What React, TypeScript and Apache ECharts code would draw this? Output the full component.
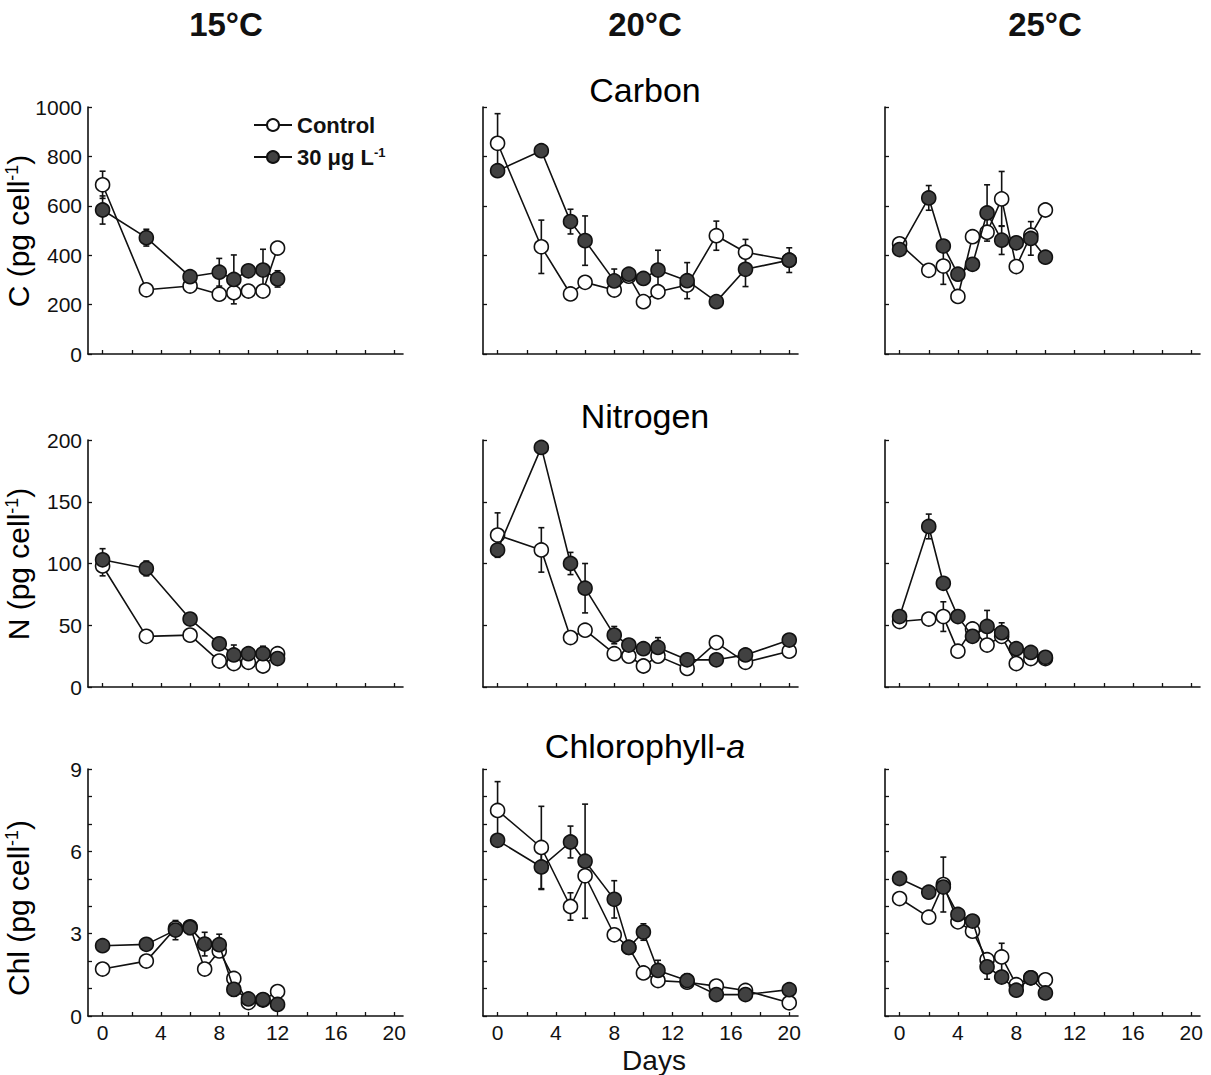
import React, { useEffect, useRef } from 'react';
import * as echarts from 'echarts';

// ---- Axis ticks and labels ----
const temperatures = ['15°C', '20°C', '25°C'];
const dayTicks = [0, 2, 4, 6, 8, 10, 12, 14, 16, 18, 20];
const dayLabels = [0, 4, 8, 12, 16, 20];

// ---- Carbon (pg cell-1) ----
const carbon15Days = [0, 3, 6, 8, 9, 10, 11, 12];
const carbon15Control = [685, 260, 275, 242, 248, 255, 255, 429];
const carbon15ControlErr = [55, 0, 10, 10, 10, 10, 22, 26];
const carbon15Treated = [583, 471, 313, 331, 302, 337, 340, 304];
const carbon15TreatedErr = [57, 34, 15, 56, 99, 20, 84, 33];

const carbon20Days = [0, 3, 5, 6, 8, 9, 10, 11, 13, 15, 17, 20];
const carbon20Control = [853, 434, 243, 290, 259, 315, 212, 252, 279, 479, 412, 380];
const carbon20ControlErr = [120, 108, 25, 0, 15, 0, 0, 0, 0, 59, 52, 0];
const carbon20Treated = [742, 823, 536, 459, 296, 323, 306, 340, 297, 212, 343, 380];
const carbon20TreatedErr = [20, 0, 50, 100, 48, 0, 25, 80, 73, 0, 70, 50];

const carbon25Days = [0, 2, 3, 4, 5, 6, 7, 8, 9, 10];
const carbon25Control = [446, 339, 356, 233, 475, 493, 628, 354, 481, 583];
const carbon25ControlErr = [20, 20, 74, 0, 0, 0, 111, 0, 0, 0];
const carbon25Treated = [423, 632, 437, 323, 363, 571, 461, 450, 468, 392];
const carbon25TreatedErr = [20, 50, 0, 25, 0, 114, 58, 25, 68, 0];

// ---- Nitrogen (pg cell-1) ----
const nitrogen15Days = [0, 3, 6, 8, 9, 10, 11, 12];
const nitrogen15Control = [98, 41, 42, 21, 19, 20, 17, 27];
const nitrogen15ControlErr = [8, 0, 0, 0, 0, 0, 0, 0];
const nitrogen15Treated = [103, 96, 55, 35, 26, 27, 27, 23];
const nitrogen15TreatedErr = [9, 6, 3, 5, 8, 4, 6, 0];

const nitrogen20Days = [0, 3, 5, 6, 8, 9, 10, 11, 13, 15, 17, 20];
const nitrogen20Control = [123, 111, 40, 46, 27, 25, 17, 25, 15, 36, 20, 29];
const nitrogen20ControlErr = [18, 18, 4, 0, 0, 0, 0, 0, 0, 0, 0, 0];
const nitrogen20Treated = [111, 194, 100, 80, 42, 34, 31, 32, 22, 22, 26, 38];
const nitrogen20TreatedErr = [4, 0, 9, 20, 7, 0, 0, 8, 4, 0, 4, 0];

const nitrogen25Days = [0, 2, 3, 4, 5, 6, 7, 8, 9, 10];
const nitrogen25Control = [53, 55, 57, 29, 47, 34, 41, 19, 23, 23];
const nitrogen25ControlErr = [0, 0, 12, 0, 0, 0, 0, 0, 0, 0];
const nitrogen25Treated = [57, 130, 84, 57, 41, 49, 44, 31, 28, 24];
const nitrogen25TreatedErr = [0, 10, 0, 4, 0, 13, 8, 0, 0, 0];

// ---- Chlorophyll-a (pg cell-1) ----
const chl15Days = [0, 3, 5, 6, 7, 8, 9, 10, 11, 12];
const chl15Control = [1.71, 2.0, 3.2, 3.25, 1.71, 2.37, 1.37, 0.49, 0.58, 0.89];
const chl15ControlErr = [0, 0, 0, 0, 0, 0, 0, 0, 0, 0];
const chl15Treated = [2.56, 2.61, 3.13, 3.22, 2.62, 2.6, 0.97, 0.62, 0.6, 0.42];
const chl15TreatedErr = [0.15, 0, 0.35, 0.25, 0.43, 0.38, 0.25, 0, 0, 0];

const chl20Days = [0, 3, 5, 6, 8, 9, 10, 11, 13, 15, 17, 20];
const chl20Control = [7.49, 6.14, 3.99, 5.11, 2.96, 2.5, 1.57, 1.29, 1.23, 1.09, 0.93, 0.48];
const chl20ControlErr = [1.05, 1.5, 0.5, 0, 0, 0, 0, 0, 0.2, 0, 0, 0];
const chl20Treated = [6.4, 5.43, 6.34, 5.64, 4.25, 2.5, 3.06, 1.66, 1.29, 0.78, 0.78, 0.96];
const chl20TreatedErr = [0.15, 0.82, 0.58, 2.08, 0.68, 0, 0.3, 0.37, 0.25, 0, 0, 0];

const chl25Days = [0, 2, 3, 4, 5, 6, 7, 8, 9, 10];
const chl25Control = [4.28, 3.6, 4.79, 3.43, 3.09, 2.05, 2.15, 1.14, 1.39, 1.32];
const chl25ControlErr = [0.15, 0.2, 1.0, 0.2, 0, 0, 0.5, 0, 0, 0];
const chl25Treated = [5.01, 4.51, 4.7, 3.7, 3.46, 1.79, 1.42, 0.94, 1.39, 0.84];
const chl25TreatedErr = [0.2, 0.2, 0, 0.2, 0, 0.45, 0, 0, 0, 0];

const CONTROL = 'Control';
const TREATED = '30 μg L-1';
const FONT = '"Liberation Sans", Arial, Helvetica, sans-serif';
const INK = '#111';

type Panel = {
  days: number[];
  control: number[];
  controlErr: number[];
  treated: number[];
  treatedErr: number[];
};

// rows: Carbon, Nitrogen, Chlorophyll-a; columns: 15, 20, 25 °C
const panels: Panel[][] = [
  [
    { days: carbon15Days, control: carbon15Control, controlErr: carbon15ControlErr, treated: carbon15Treated, treatedErr: carbon15TreatedErr },
    { days: carbon20Days, control: carbon20Control, controlErr: carbon20ControlErr, treated: carbon20Treated, treatedErr: carbon20TreatedErr },
    { days: carbon25Days, control: carbon25Control, controlErr: carbon25ControlErr, treated: carbon25Treated, treatedErr: carbon25TreatedErr },
  ],
  [
    { days: nitrogen15Days, control: nitrogen15Control, controlErr: nitrogen15ControlErr, treated: nitrogen15Treated, treatedErr: nitrogen15TreatedErr },
    { days: nitrogen20Days, control: nitrogen20Control, controlErr: nitrogen20ControlErr, treated: nitrogen20Treated, treatedErr: nitrogen20TreatedErr },
    { days: nitrogen25Days, control: nitrogen25Control, controlErr: nitrogen25ControlErr, treated: nitrogen25Treated, treatedErr: nitrogen25TreatedErr },
  ],
  [
    { days: chl15Days, control: chl15Control, controlErr: chl15ControlErr, treated: chl15Treated, treatedErr: chl15TreatedErr },
    { days: chl20Days, control: chl20Control, controlErr: chl20ControlErr, treated: chl20Treated, treatedErr: chl20TreatedErr },
    { days: chl25Days, control: chl25Control, controlErr: chl25ControlErr, treated: chl25Treated, treatedErr: chl25TreatedErr },
  ],
];

const rowScales = [
  { min: 0, max: 1000, interval: 200, labelEvery: 200 },
  { min: 0, max: 200, interval: 50, labelEvery: 50 },
  { min: 0, max: 9, interval: 1, labelEvery: 3 },
];

const gridLefts = [88, 483, 885];
const gridTops = [107, 440, 769];
const GRID_W = 315;
const GRID_H = 247;

function errorBarSeries(idx: number, days: number[], vals: number[], errs: number[]) {
  return {
    type: 'custom',
    name: 'sd',
    xAxisIndex: idx,
    yAxisIndex: idx,
    z: 1,
    silent: true,
    data: days.map((d, i) => [d, vals[i], errs[i]]),
    encode: { x: 0, y: 1 },
    renderItem: (_params: any, api: any) => {
      const x = api.value(0);
      const y = api.value(1);
      const e = api.value(2);
      if (!(e > 0)) return null;
      const top = api.coord([x, y + e]);
      const bot = api.coord([x, y - e]);
      const cap = 3;
      const style = { stroke: INK, lineWidth: 1.6 };
      return {
        type: 'group',
        children: [
          { type: 'line', shape: { x1: top[0], y1: top[1], x2: bot[0], y2: bot[1] }, style },
          { type: 'line', shape: { x1: top[0] - cap, y1: top[1], x2: top[0] + cap, y2: top[1] }, style },
          { type: 'line', shape: { x1: bot[0] - cap, y1: bot[1], x2: bot[0] + cap, y2: bot[1] }, style },
        ],
      };
    },
  };
}

function lineSeries(idx: number, name: string, days: number[], vals: number[], fill: string, z: number) {
  return {
    type: 'line',
    name,
    xAxisIndex: idx,
    yAxisIndex: idx,
    z,
    data: days.map((d, i) => [d, vals[i]]),
    symbol: 'circle',
    symbolSize: 14,
    showAllSymbol: true,
    lineStyle: { color: INK, width: 1.6 },
    itemStyle: { color: fill, borderColor: INK, borderWidth: 1.6 },
    emphasis: { disabled: true },
  };
}

function buildOption() {
  const grid: any[] = [];
  const xAxis: any[] = [];
  const yAxis: any[] = [];
  const series: any[] = [];

  for (let r = 0; r < 3; r++) {
    for (let c = 0; c < 3; c++) {
      const idx = r * 3 + c;
      const p = panels[r][c];
      const s = rowScales[r];
      grid.push({
        left: gridLefts[c],
        top: gridTops[r],
        width: GRID_W,
        height: GRID_H,
        containLabel: false,
        outerBoundsMode: 'none',
      });
      xAxis.push({
        type: 'value',
        gridIndex: idx,
        min: -1,
        max: 20.6,
        axisLine: { show: true, onZero: false, lineStyle: { color: INK, width: 1.6 } },
        axisTick: { show: true, inside: true, length: 4, customValues: dayTicks, lineStyle: { color: INK, width: 1.3 } },
        axisLabel: {
          show: r === 2,
          customValues: dayLabels,
          fontSize: 21,
          color: INK,
          fontFamily: FONT,
          margin: 6,
        },
        splitLine: { show: false },
      });
      yAxis.push({
        type: 'value',
        gridIndex: idx,
        min: s.min,
        max: s.max,
        interval: s.interval,
        axisLine: { show: true, onZero: false, lineStyle: { color: INK, width: 1.6 } },
        axisTick: { show: true, inside: true, length: 4, lineStyle: { color: INK, width: 1.3 } },
        axisLabel: {
          show: c === 0,
          fontSize: 21,
          color: INK,
          fontFamily: FONT,
          margin: 6,
          formatter: (v: number) => (Math.round(v) % s.labelEvery === 0 ? String(v) : ''),
        },
        splitLine: { show: false },
      });
      series.push(errorBarSeries(idx, p.days, p.control, p.controlErr));
      series.push(errorBarSeries(idx, p.days, p.treated, p.treatedErr));
      series.push(lineSeries(idx, CONTROL, p.days, p.control, '#ffffff', 2));
      series.push(lineSeries(idx, TREATED, p.days, p.treated, '#414141', 3));
    }
  }

  const supRich = (size: number, weight: string) => ({
    n: { fontSize: size, fontFamily: FONT, fontWeight: weight, color: INK },
    s: { fontSize: Math.round(size * 0.6), fontFamily: FONT, fontWeight: weight, color: INK, verticalAlign: 'top' },
  });

  const yNames = [
    { text: '{n|C (pg cell}{s|-1}{n|)}', cy: 231 },
    { text: '{n|N (pg cell}{s|-1}{n|)}', cy: 564 },
    { text: '{n|Chl (pg cell}{s|-1}{n|)}', cy: 908 },
  ];
  const headerX = [226, 645, 1045];
  const rowTitles = [
    { text: '{n|Carbon}', cy: 90 },
    { text: '{n|Nitrogen}', cy: 416 },
    { text: '{n|Chlorophyll-}{i|a}', cy: 746 },
  ];

  const graphic: any[] = [];
  temperatures.forEach((t, i) => {
    graphic.push({
      type: 'text',
      x: headerX[i],
      y: 24,
      style: { text: t, fontSize: 33, fontWeight: 'bold', fontFamily: FONT, fill: INK, align: 'center', verticalAlign: 'middle' },
    });
  });
  rowTitles.forEach((rt) => {
    graphic.push({
      type: 'text',
      x: 645,
      y: rt.cy,
      style: {
        text: rt.text,
        align: 'center',
        verticalAlign: 'middle',
        rich: {
          n: { fontSize: 34, fontFamily: FONT, color: INK },
          i: { fontSize: 34, fontFamily: FONT, color: INK, fontStyle: 'italic' },
        },
      },
    });
  });
  yNames.forEach((yn) => {
    graphic.push({
      type: 'text',
      x: 18,
      y: yn.cy,
      rotation: Math.PI / 2,
      style: { text: yn.text, align: 'center', verticalAlign: 'middle', rich: supRich(30, 'normal') },
    });
  });
  graphic.push({
    type: 'text',
    x: 654,
    y: 1060,
    style: { text: 'Days', fontSize: 28, fontFamily: FONT, fill: INK, align: 'center', verticalAlign: 'middle' },
  });

  return {
    animation: false,
    backgroundColor: '#ffffff',
    grid,
    xAxis,
    yAxis,
    series,
    graphic,
    legend: {
      data: [CONTROL, TREATED],
      orient: 'vertical',
      left: 253,
      top: 114,
      padding: 0,
      itemGap: 10,
      itemWidth: 38,
      itemHeight: 15,
      selectedMode: false,
      formatter: (name: string) => (name === CONTROL ? '{n|Control}' : '{n|30 μg L}{s|-1}'),
      textStyle: { rich: supRich(22, 'bold') },
    },
  };
}

export default function App() {
  const ref = useRef<HTMLDivElement>(null);
  useEffect(() => {
    document.body.style.margin = '0';
    if (!ref.current) return;
    const chart = echarts.init(ref.current, null, { renderer: 'svg' });
    chart.setOption(buildOption() as any);
    return () => chart.dispose();
  }, []);
  return <div ref={ref} style={{ width: 1211, height: 1075, background: '#fff' }} />;
}
